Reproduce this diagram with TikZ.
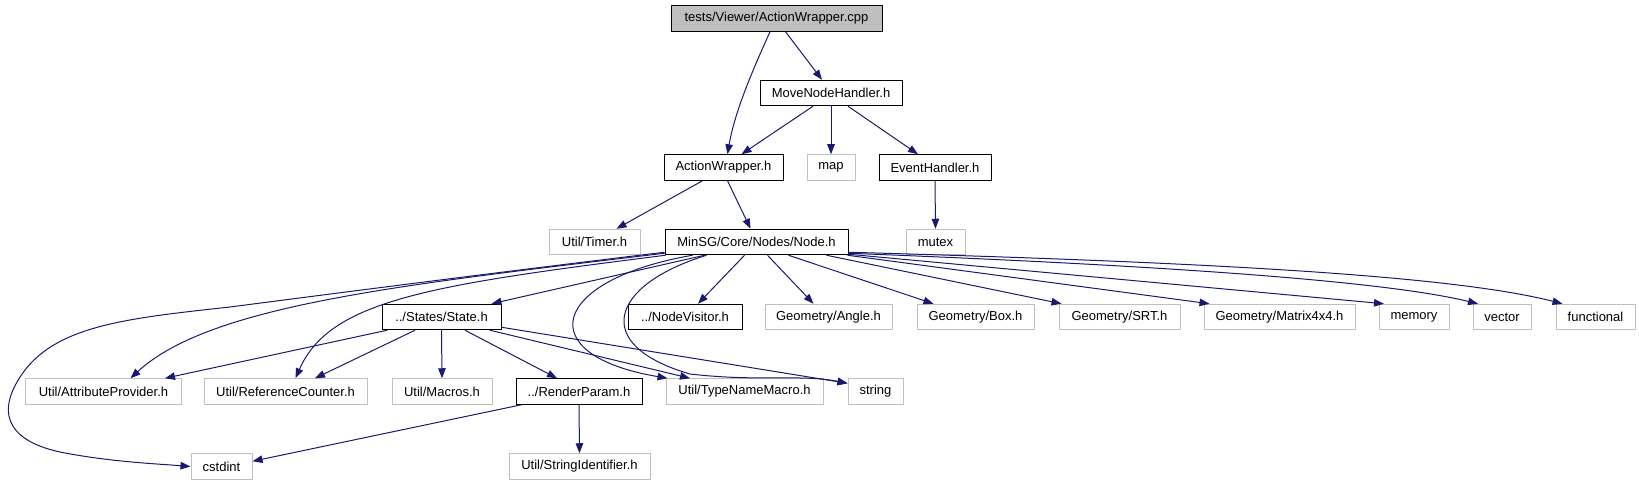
\documentclass[tikz,border=0pt]{standalone}
\usepackage{fontspec}
\setmainfont{Liberation Sans}
\usetikzlibrary{arrows.meta}
\definecolor{eblue}{HTML}{191970}
\definecolor{gbord}{HTML}{BFBFBF}
\definecolor{gfill}{HTML}{BFBFBF}
\newcommand\dgfont{\fontsize{13bp}{15bp}\selectfont}
\tikzset{
  nb/.style={draw=black, line width=1bp, minimum height=25.5bp, inner sep=0pt, font=\dgfont},
  ng/.style={nb, draw=gbord},
  edge/.style={draw=eblue, line width=1bp, -{Triangle[length=10bp,width=7.5bp]}},
}
\begin{document}
\begin{tikzpicture}[x=1bp,y=1bp]
\useasboundingbox (0,0) rectangle (1639,-485);
% row 1
\node[nb, fill=gfill, minimum width=211bp] (root) at (776.5,-18.5) {tests/Viewer/ActionWrapper.cpp};
% row 2
\node[nb, minimum width=142bp] (mnh) at (831,-93) {MoveNodeHandler.h};
% row 3
\node[nb, minimum width=119bp] (aw) at (723.5,-167.5) {ActionWrapper.h};
\node[ng, minimum width=48bp] (map) at (831,-167.5) {map};
\node[nb, minimum width=112bp] (eh) at (935,-167.5) {EventHandler.h};
% row 4
\node[ng, minimum width=91bp] (timer) at (594.5,-242) {Util/Timer.h};
\node[nb, minimum width=183bp] (nd) at (756.5,-242) {MinSG/Core/Nodes/Node.h};
\node[ng, minimum width=59bp] (mutex) at (935.5,-242) {mutex};
% row 5
\node[nb, minimum width=119bp] (state) at (441.5,-317) {../States/State.h};
\node[nb, minimum width=114bp] (nv) at (685,-317) {../NodeVisitor.h};
\node[ng, minimum width=127bp] (angle) at (828.5,-317) {Geometry/Angle.h};
\node[ng, minimum width=117bp] (box) at (975.5,-317) {Geometry/Box.h};
\node[ng, minimum width=121bp] (srt) at (1119.5,-317) {Geometry/SRT.h};
\node[ng, minimum width=151bp] (mat) at (1279.5,-317) {Geometry/Matrix4x4.h};
\node[ng, minimum width=70bp] (mem) at (1414,-317) {memory};
\node[ng, minimum width=58bp] (vec) at (1502,-317) {vector};
\node[ng, minimum width=79bp] (fun) at (1595.5,-317) {functional};
% row 6
\node[ng, minimum width=155bp] (attr) at (103.5,-391.5) {Util/AttributeProvider.h};
\node[ng, minimum width=163bp] (ref) at (285.5,-391.5) {Util/ReferenceCounter.h};
\node[ng, minimum width=100bp] (macros) at (442,-391.5) {Util/Macros.h};
\node[nb, minimum width=126bp] (rp) at (579,-391.5) {../RenderParam.h};
\node[ng, minimum width=157bp] (tnm) at (744.5,-391.5) {Util/TypeNameMacro.h};
\node[ng, minimum width=55bp] (str) at (875.5,-391.5) {string};
% row 7
\node[ng, minimum width=61bp] (cs) at (221.5,-466.5) {cstdint};
\node[ng, minimum width=141bp] (sid) at (579.5,-466.5) {Util/StringIdentifier.h};

% edges
\draw[edge] ([xshift=-6.5bp]root.south) .. controls (755,-65) and (735,-110) .. ([xshift=4bp]aw.north);
\draw[edge] ([xshift=9bp]root.south) -- ([xshift=-9bp]mnh.north);
\draw[edge] ([xshift=-18bp]mnh.south) -- ([xshift=18bp]aw.north);
\draw[edge] (mnh.south) -- (map.north);
\draw[edge] ([xshift=17bp]mnh.south) -- ([xshift=-17bp]eh.north);
\draw[edge] (eh.south) -- (mutex.north);
\draw[edge] ([xshift=-21bp]aw.south) -- ([xshift=22bp]timer.north);
\draw[edge] ([xshift=4bp]aw.south) -- ([xshift=-6bp]nd.north);

\draw[edge] ([xshift=-52bp]nd.south) -- ([xshift=50bp]state.north);
\draw[edge] ([xshift=-12bp]nd.south) -- ([xshift=13bp]nv.north);
\draw[edge] ([xshift=11bp]nd.south) -- ([xshift=-15bp]angle.north);
\draw[edge] ([xshift=32bp]nd.south) -- ([xshift=-42bp]box.north);
\draw[edge] ([xshift=70bp]nd.south) -- ([xshift=-58bp]srt.north);
\draw[edge] ([xshift=-1bp]nd.south east) -- ([xshift=-70bp]mat.north);
\draw[edge] ([yshift=1bp]nd.south east) -- ([xshift=-30bp]mem.north);
\draw[edge] ([yshift=2bp]nd.south east) .. controls (1150,-265) and (1380,-280) .. ([xshift=-24bp]vec.north);
\draw[edge] ([yshift=3bp]nd.south east) .. controls (1200,-262) and (1450,-275) .. ([xshift=-33bp]fun.north);

\draw[edge] ([yshift=3bp]nd.south west) .. controls (500,-272) and (330,-294) .. (230,-307)
  .. controls (130,-318) and (60,-325) .. (25,-370)
  .. controls (-5,-410) and (5,-440) .. (60,-452)
  .. controls (110,-462) and (160,-464) .. (cs.west);
\draw[edge] ([yshift=2bp]nd.south west) .. controls (400,-285) and (210,-305) .. ([xshift=27bp]attr.north);
\draw[edge] ([xshift=1bp]nd.south west) .. controls (430,-285) and (330,-300) .. ([xshift=10bp]ref.north);
\draw[edge] ([xshift=-64bp]nd.south) .. controls (550,-280) and (530,-355) .. ([xshift=2bp]tnm.north west);
\draw[edge] ([xshift=-50bp]nd.south) .. controls (610,-285) and (590,-345) .. (690,-374)
  .. controls (760,-382) and (800,-374) .. ([yshift=-5bp]str.north west);

\draw[edge] ([xshift=-54.5bp]state.south) -- ([xshift=61.5bp]attr.north);
\draw[edge] ([xshift=-26.5bp]state.south) -- ([xshift=29.5bp]ref.north);
\draw[edge] (state.south) -- (macros.north);
\draw[edge] ([xshift=23.5bp]state.south) -- ([xshift=-22bp]rp.north);
\draw[edge] ([xshift=48.5bp]state.south) -- ([xshift=-54.5bp]tnm.north);
\draw[edge] ([yshift=3bp]state.south east) -- ([yshift=-5bp]str.north west);

\draw[edge] ([xshift=6bp]rp.south west) -- ([yshift=-8bp]cs.north east);
\draw[edge] (rp.south) -- (sid.north);
\end{tikzpicture}
\end{document}
